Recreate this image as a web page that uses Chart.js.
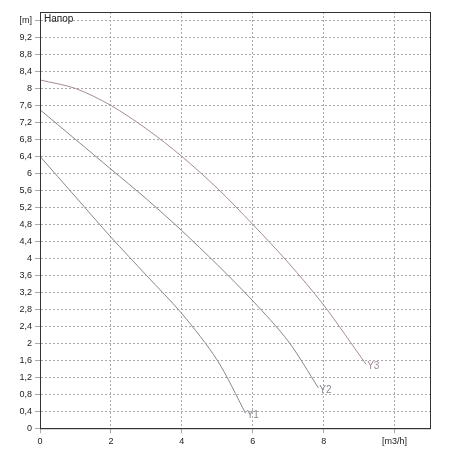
<!DOCTYPE html>
<html>
<head>
<meta charset="utf-8">
<script src="https://cdn.jsdelivr.net/npm/chart.js@4"></script>
<style>body{margin:0;background:#fff}</style>
</head>
<body>
<canvas id="c" width="450" height="450"></canvas>
<script>
// Pump head curves (x = flow m3/h, y = head m)
const y1Points = [[0, 6.4], [1, 5.45], [2, 4.5], [3, 3.6], [4, 2.7], [5, 1.6], [5.8, 0.35]];
const y2Points = [[0, 7.5], [1, 6.8], [2, 6.1], [3, 5.4], [4, 4.65], [5, 3.85], [6, 3.0], [7, 2.05], [7.85, 0.95]];
const y3Points = [[0, 8.2], [1, 8.0], [2, 7.6], [3, 7.05], [4, 6.4], [5, 5.65], [6, 4.8], [7, 3.9], [8, 2.9], [9.2, 1.5]];
const seriesNames = ['Y1', 'Y2', 'Y3'];
const xTicks = [0, 2, 4, 6, 8, 10];

const toXY = pts => pts.map(p => ({x: p[0], y: p[1]}));

const endLabels = {
    id: 'endLabels',
    afterDatasetsDraw(chart) {
        const ctx = chart.ctx;
        ctx.save();
        ctx.font = '10px Arial';
        chart.data.datasets.forEach((ds, i) => {
            const pts = chart.getDatasetMeta(i).data;
            const last = pts[pts.length - 1];
            ctx.fillStyle = ds.borderColor;
            ctx.fillText(seriesNames[i], last.x + 1, last.y + 5);
        });
        ctx.fillStyle = '#222';
        ctx.fillText('Напор', chart.chartArea.left + 4, chart.chartArea.top + 10);
        ctx.restore();
    }
};

new Chart(document.getElementById('c'), {
    type: 'line',
    data: {
        datasets: [
            {data: toXY(y1Points), borderColor: '#8a8590', borderWidth: 1, pointRadius: 0, tension: 0.3},
            {data: toXY(y2Points), borderColor: '#8a8590', borderWidth: 1, pointRadius: 0, tension: 0.3},
            {data: toXY(y3Points), borderColor: '#a58a98', borderWidth: 1, pointRadius: 0, tension: 0.3}
        ]
    },
    options: {
        responsive: false,
        animation: false,
        layout: {padding: {top: 12, right: 20, left: 0, bottom: 0}},
        plugins: {legend: {display: false}, tooltip: {enabled: false}},
        scales: {
            x: {
                type: 'linear', min: 0, max: 11,
                afterBuildTicks: axis => { axis.ticks = xTicks.map(v => ({value: v})); },
                grid: {color: '#aaa', lineWidth: 1, tickLength: 5},
                border: {color: '#333', dash: [2, 2]},
                ticks: {
                    color: '#222', font: {size: 9, family: 'Arial'},
                    callback: v => v === 10 ? '[m3/h]' : String(v)
                }
            },
            y: {
                type: 'linear', min: 0, max: 9.8,
                afterBuildTicks: axis => {
                    const t = [];
                    for (let i = 0; i <= 24; i++) t.push({value: +(i * 0.4).toFixed(1)});
                    axis.ticks = t;
                },
                afterFit: axis => { axis.width = 40; },
                grid: {color: '#aaa', lineWidth: 1, tickLength: 5},
                border: {color: '#333', dash: [2, 2]},
                ticks: {
                    color: '#222', font: {size: 9, family: 'Arial'},
                    callback: v => {
                        if (Math.abs(v - 9.6) < 0.01) return '[m]';
                        if (Math.abs(v - Math.round(v)) < 0.01) return String(Math.round(v));
                        return v.toFixed(1).replace('.', ',');
                    }
                }
            }
        }
    },
    plugins: [endLabels, {
        id: 'frame',
        afterDraw(chart) {
            const a = chart.chartArea, ctx = chart.ctx;
            ctx.save();
            ctx.strokeStyle = '#333';
            ctx.lineWidth = 1;
            ctx.strokeRect(a.left + 0.5, a.top + 0.5, a.right - a.left, a.bottom - a.top);
            ctx.restore();
        }
    }]
});
</script>
</body>
</html>
